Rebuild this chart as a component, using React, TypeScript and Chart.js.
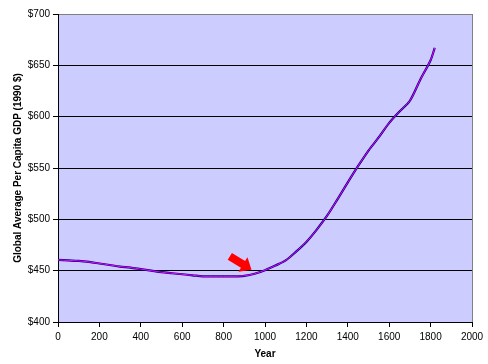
import React, { useEffect, useRef } from "react";
import { Chart, registerables } from "chart.js";

Chart.register(...registerables);

const years = [0, 50, 100, 150, 200, 250, 300, 350, 400, 450, 500, 550, 600, 650, 700, 750, 800, 850, 900, 950, 1000, 1050, 1100, 1150, 1200, 1250, 1300, 1350, 1400, 1450, 1500, 1550, 1600, 1650, 1700, 1750, 1800, 1820];
const gdp = [460.5, 460, 459.5, 458.5, 457, 455.5, 454, 453, 451.5, 450, 448.5, 447.5, 446.5, 445.5, 444.5, 444.5, 444.5, 444.5, 445, 447, 450.5, 455, 460, 468.5, 478, 490, 503.5, 519.5, 536, 552, 567, 580, 594, 605, 615.5, 636, 655, 667];

const yTicks = [400, 450, 500, 550, 600, 650, 700];
const xTicks = [0, 200, 400, 600, 800, 1000, 1200, 1400, 1600, 1800, 2000];

// arrow annotation (data coordinates): tail -> tip
const arrowTail = { x: 830, y: 464 };
const arrowTip = { x: 935, y: 451 };

const FONT = "'Liberation Sans', Arial, sans-serif";

export default function App() {
  const ref = useRef<HTMLCanvasElement | null>(null);

  useEffect(() => {
    document.body.style.margin = "0";
    const canvas = ref.current;
    if (!canvas) return;
    const pts = years.map((x, i) => ({ x, y: gdp[i] }));

    const bgPlugin = {
      id: "bgPlugin",
      beforeDraw(chart: any) {
        const { ctx, chartArea: a } = chart;
        ctx.save();
        ctx.fillStyle = "#ffffff";
        ctx.fillRect(0, 0, chart.width, chart.height);
        ctx.fillStyle = "#CCCCFF";
        ctx.fillRect(a.left, a.top, a.right - a.left, a.bottom - a.top);
        ctx.restore();
      },
      afterDatasetsDraw(chart: any) {
        const { ctx, chartArea: a, scales } = chart;
        ctx.save();
        ctx.strokeStyle = "#808080";
        ctx.lineWidth = 1;
        ctx.beginPath();
        ctx.moveTo(Math.round(a.right) + 0.5, a.top);
        ctx.lineTo(Math.round(a.right) + 0.5, a.bottom);
        ctx.stroke();
        const x0 = scales.x.getPixelForValue(arrowTail.x);
        const y0 = scales.y.getPixelForValue(arrowTail.y);
        const x1 = scales.x.getPixelForValue(arrowTip.x);
        const y1 = scales.y.getPixelForValue(arrowTip.y);
        const dx = x1 - x0, dy = y1 - y0;
        const len = Math.hypot(dx, dy);
        const ux = dx / len, uy = dy / len;
        const nx = -uy, ny = ux;
        const shaftW = 4, headW = 8.5, headL = 10;
        const bx = x1 - ux * headL, by = y1 - uy * headL;
        ctx.fillStyle = "#FF0000";
        ctx.beginPath();
        ctx.moveTo(x0 + nx * shaftW, y0 + ny * shaftW);
        ctx.lineTo(bx + nx * shaftW, by + ny * shaftW);
        ctx.lineTo(bx + nx * headW, by + ny * headW);
        ctx.lineTo(x1, y1);
        ctx.lineTo(bx - nx * headW, by - ny * headW);
        ctx.lineTo(bx - nx * shaftW, by - ny * shaftW);
        ctx.lineTo(x0 - nx * shaftW, y0 - ny * shaftW);
        ctx.closePath();
        ctx.fill();
        ctx.restore();
      },
    };

    const chart = new Chart(canvas, {
      type: "line",
      data: {
        datasets: [
          {
            data: pts,
            borderColor: "#FF00FF",
            borderWidth: 1,
            pointRadius: 0,
            tension: 0.3,
            order: 0,
          },
          {
            data: pts,
            borderColor: "#000080",
            borderWidth: 2.2,
            pointRadius: 0,
            tension: 0.3,
            order: 1,
          },
        ],
      },
      options: {
        responsive: false,
        animation: false,
        layout: { padding: { top: 14, right: 16, left: 0, bottom: 0 } },
        plugins: { legend: { display: false }, tooltip: { enabled: false } },
        scales: {
          x: {
            type: "linear",
            min: 0,
            max: 2000,
            afterBuildTicks: (s: any) => {
              s.ticks = xTicks.map((v) => ({ value: v }));
            },
            afterFit: (s: any) => {
              s.height = 42;
            },
            ticks: {
              color: "#000",
              font: { family: FONT, size: 10 },
              padding: 4,
              maxRotation: 0,
              autoSkip: false,
              callback: (v: any) => String(v),
            },
            grid: {
              drawOnChartArea: false,
              drawTicks: true,
              tickLength: 5,
              color: "#000",
            },
            border: { color: "#000", width: 1 },
            title: {
              display: true,
              text: "Year",
              color: "#000",
              font: { family: FONT, size: 10, weight: "bold" },
              padding: { top: 0, bottom: 4 },
            },
          },
          y: {
            type: "linear",
            min: 400,
            max: 700,
            afterBuildTicks: (s: any) => {
              s.ticks = yTicks.map((v) => ({ value: v }));
            },
            afterFit: (s: any) => {
              s.width = 58;
            },
            ticks: {
              color: "#000",
              font: { family: FONT, size: 10 },
              padding: 3,
              callback: (v: any) => "$" + v,
            },
            grid: {
              color: (c: any) => (c.tick && c.tick.value === 700 ? "#808080" : "#000"),
              tickColor: "#000",
              tickLength: 5,
            },
            border: { color: "#000", width: 1 },
            title: {
              display: true,
              text: "Global Average Per Capita GDP (1990 $)",
              color: "#000",
              font: { family: FONT, size: 10, weight: "bold" },
              padding: { top: 12, bottom: 0 },
            },
          },
        },
      },
      plugins: [bgPlugin],
    });
    return () => chart.destroy();
  }, []);

  return (
    <div style={{ width: 488, height: 364 }}>
      <canvas ref={ref} width={488} height={364} style={{ width: 488, height: 364, display: "block" }} />
    </div>
  );
}
